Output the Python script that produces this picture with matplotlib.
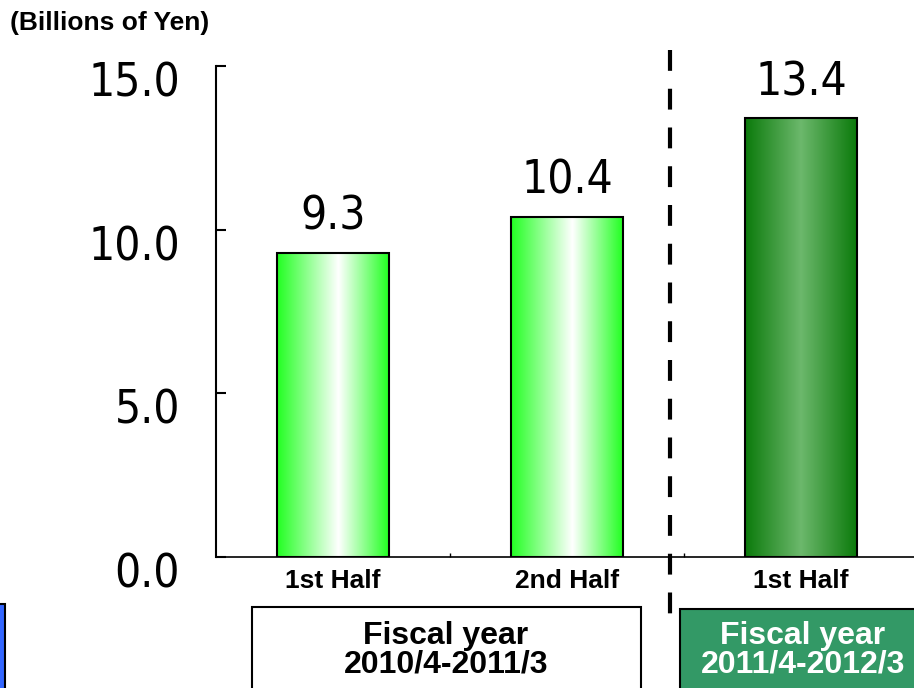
import matplotlib
matplotlib.use("Agg")
import matplotlib.pyplot as plt
import numpy as np
from matplotlib.patches import Rectangle
from matplotlib.lines import Line2D
from matplotlib import font_manager as fm
import matplotlib.transforms as mtransforms
from matplotlib.colors import LinearSegmentedColormap

categories = ["1st Half", "2nd Half", "1st Half"]
values = [9.3, 10.4, 13.4]
value_labels = ["9.3", "10.4", "13.4"]
yticks = [0.0, 5.0, 10.0, 15.0]
ytick_labels = ["0.0", "5.0", "10.0", "15.0"]
unit_label = "(Billions of Yen)"
period_labels = ["Fiscal year\n2010/4-2011/3", "Fiscal year\n2011/4-2012/3"]

names = {f.name for f in fm.fontManager.ttflist}
if "Liberation Sans Narrow" in names:
    narrow = fm.FontProperties(family="Liberation Sans Narrow", size=35)
else:
    narrow = fm.FontProperties(family="DejaVu Sans", stretch="condensed", size=33)
plt.rcParams['font.family'] = ['Liberation Sans', 'DejaVu Sans']

W, H = 914, 688
fig = plt.figure(figsize=(W/100, H/100), dpi=100)
ax = fig.add_axes([216/W, 1-557/H, (918-216)/W, (557-66)/H])

light = LinearSegmentedColormap.from_list("l", [(0, "#22ff22"), (0.55, "#ffffff"), (1, "#22ff22")])
dark = LinearSegmentedColormap.from_list("d", [(0, "#0b7a0b"), (0.5, "#6cb86c"), (1, "#0b7a0b")])
cmaps = [light, light, dark]
width = 0.475
x = np.arange(len(values))
bars = ax.bar(x, values, width=width, color='none', edgecolor='black', linewidth=1.5, zorder=3)
grad = np.linspace(0, 1, 256).reshape(1, -1)
for b, cm in zip(bars, cmaps):
    x0, y0 = b.get_x(), b.get_y()
    im = ax.imshow(grad, cmap=cm, aspect='auto', extent=[x0, x0 + b.get_width(), y0, y0 + b.get_height()], zorder=2)
    im.set_clip_path(b)
ax.set_xlim(-0.5, 2.5)
ax.set_ylim(0, 15)

for xi, v, lab in zip(x, values, value_labels):
    ax.annotate(lab, (xi, v), xytext=(0, 13), textcoords='offset pixels', ha='center', va='bottom',
                fontproperties=narrow, color='black')

for s in ['top', 'right']:
    ax.spines[s].set_visible(False)
ax.spines['left'].set_linewidth(1.5)
ax.spines['bottom'].set_linewidth(1.2)

ax.set_yticks(yticks)
ax.set_yticklabels(ytick_labels, fontproperties=narrow)
ax.tick_params(axis='y', direction='in', length=7.5, width=1.5, pad=26)
off = mtransforms.ScaledTranslation(0, -13/100, fig.dpi_scale_trans)
for t in ax.get_yticklabels():
    t.set_transform(t.get_transform() + off)

ax.set_xticks(x)
ax.set_xticklabels(categories, fontsize=19, fontweight='bold')
ax.tick_params(axis='x', length=0, pad=9)
ax.set_xticks([0.5, 1.5], minor=True)
ax.tick_params(axis='x', which='minor', direction='in', length=3, width=1)

fig.text(10/W, 1-23/H, unit_label, fontsize=19, fontweight='bold', va='center', ha='left')

fig.add_artist(Line2D([670/W, 670/W], [1-50/H, 1-630/H], transform=fig.transFigure,
                      color='black', linewidth=3, linestyle=(0, (5, 4.3))))

fig.add_artist(Rectangle((-5/W, 1-700/H), 10/W, 96/H, transform=fig.transFigure,
                         facecolor='#3366ff', edgecolor='black', linewidth=1.5))
fig.add_artist(Rectangle((252/W, 1-700/H), (641-252)/W, 93/H, transform=fig.transFigure,
                         facecolor='white', edgecolor='black', linewidth=1.5))
fig.add_artist(Rectangle((680/W, 1-700/H), 240/W, 91/H, transform=fig.transFigure,
                         facecolor='#339966', edgecolor='black', linewidth=1.5))
fig.text(446/W, 1-650/H, period_labels[0], fontsize=23, fontweight='bold', ha='center', va='center',
         linespacing=0.95, color='black')
fig.text(803/W, 1-650/H, period_labels[1], fontsize=23, fontweight='bold', ha='center', va='center',
         linespacing=0.95, color='white')

fig.savefig("out.png", dpi=100)
